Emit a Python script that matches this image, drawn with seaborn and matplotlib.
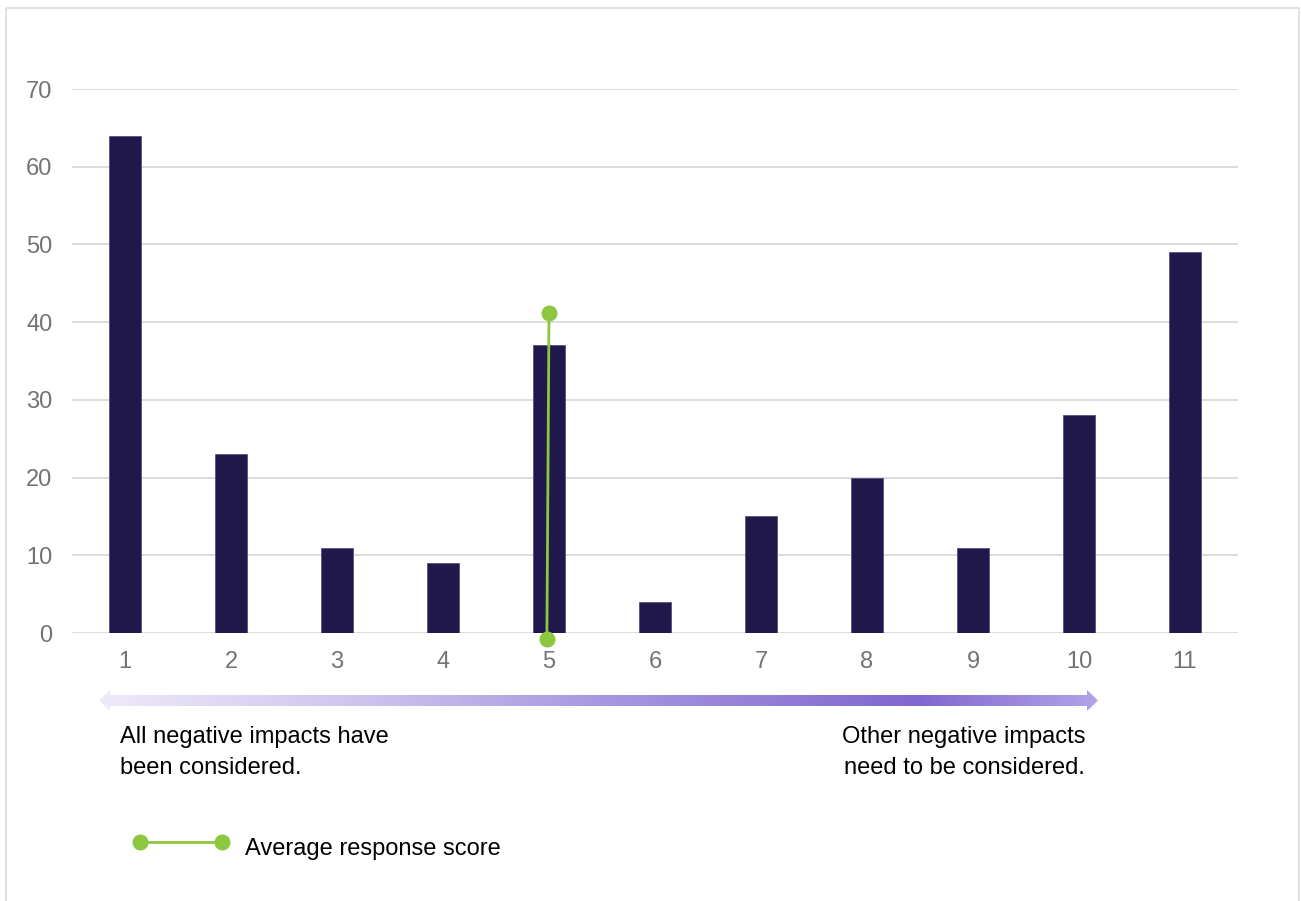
import numpy as np
import pandas as pd
import seaborn as sns
import matplotlib.pyplot as plt
from matplotlib.colors import LinearSegmentedColormap
from matplotlib.patches import Polygon, Rectangle
from matplotlib.lines import Line2D

# score distribution
scores = ['1', '2', '3', '4', '5', '6', '7', '8', '9', '10', '11']
counts = [64, 23, 11, 9, 37, 4, 15, 20, 11, 28, 49]

# average response score marker (category position, value)
avg_x = [4.98, 5.0]
avg_y = [-0.8, 41.2]

left_note = ['All negative impacts have', 'been considered.']
right_note = ['Other negative impacts', 'need to be considered.']
legend_label = 'Average response score'

bar_color = '#20174a'
green = '#8dc63f'
grey_text = '#737373'

sns.set_theme(style='white')
plt.rcParams['font.family'] = ['Liberation Sans', 'DejaVu Sans']

W, H = 1301, 901
fig = plt.figure(figsize=(W / 100, H / 100), dpi=100)
ax = fig.add_axes([72 / W, (H - 633) / H, (1238 - 72) / W, (633 - 89) / H])

df = pd.DataFrame({'score': scores, 'count': counts})
sns.barplot(data=df, x='score', y='count', color=bar_color, width=0.31,
            edgecolor='#5a5080', linewidth=0.6, saturation=1, ax=ax)

ax.set_ylim(0, 70)
ax.set_xlim(-0.5, 10.5)
ax.set_yticks(range(0, 71, 10))
ax.yaxis.grid(True, color='#d9d9d9', linewidth=1.3)
ax.set_axisbelow(True)
for s in ax.spines.values():
    s.set_visible(False)
ax.set_xlabel('')
ax.set_ylabel('')
ax.tick_params(axis='both', length=0, labelsize=17, labelcolor=grey_text)
ax.tick_params(axis='y', pad=14)
ax.tick_params(axis='x', pad=13)

# average line, positions shifted to 0-based category index
ax.plot([x - 1 for x in avg_x], avg_y, color=green, linewidth=2,
        marker='o', markersize=10.5, clip_on=False, zorder=5)

# overlay in pixel coords for the gradient arrow, notes, legend and border
ov = fig.add_axes([0, 0, 1, 1], facecolor='none')
ov.set_xlim(0, W)
ov.set_ylim(H, 0)
ov.axis('off')

ov.add_patch(Rectangle((6, 8), 1293, 900, fill=False, edgecolor='#dcdcdc', linewidth=1.2))

arrow_pts = [(99, 700.5), (110, 690), (110, 695), (1087, 695), (1087, 690),
             (1098, 700.5), (1087, 711), (1087, 706), (110, 706), (110, 711)]
arrow = Polygon(arrow_pts, closed=True, facecolor='none', edgecolor='none')
ov.add_patch(arrow)
cmap = LinearSegmentedColormap.from_list('arr', [
    (0.0, '#eeeafa'), (0.25, '#cfc6ef'), (0.5, '#a898e0'),
    (0.82, '#7f67d0'), (1.0, '#b2a3e8')])
grad = np.linspace(0, 1, 512).reshape(1, -1)
im = ov.imshow(grad, cmap=cmap, extent=(99, 1098, 712, 689), aspect='auto')
im.set_clip_path(arrow)

for i, line in enumerate(left_note):
    ov.text(120, 743 + 31 * i, line, fontsize=17, color='black',
            va='baseline', ha='left')
for i, line in enumerate(right_note):
    ov.text(964, 743 + 31 * i, line, fontsize=17, color='black',
            va='baseline', ha='center')

ov.add_line(Line2D([140, 222], [842, 842], color=green, linewidth=2,
                   marker='o', markersize=10.5))
ov.text(245, 855, legend_label, fontsize=17, color='black', va='baseline', ha='left')

fig.savefig('out.png', dpi=100)
